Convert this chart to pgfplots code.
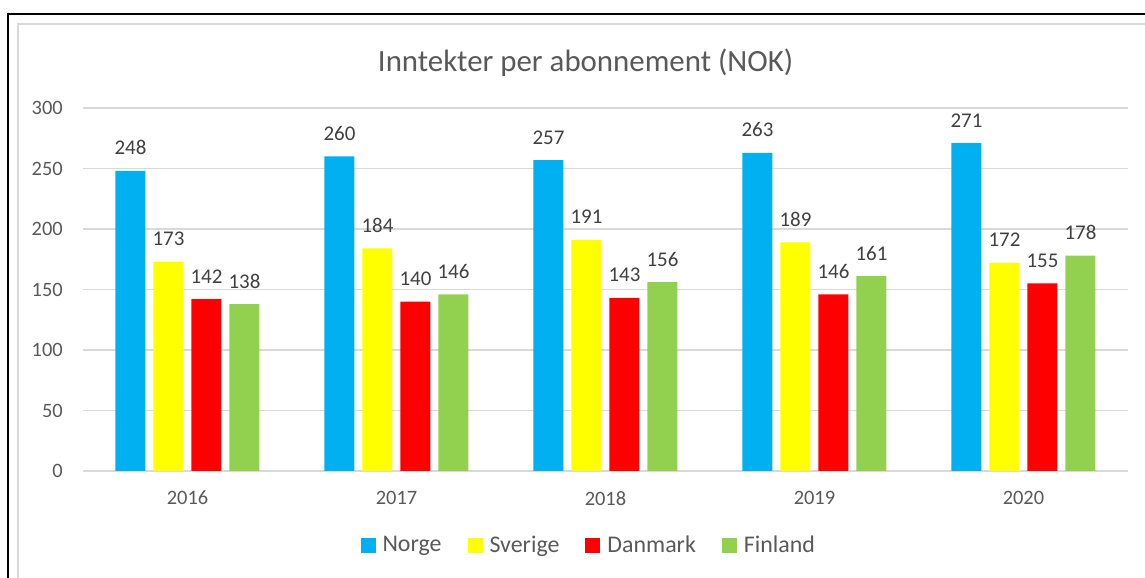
\documentclass[border=0pt]{standalone}
\usepackage{pgfplots}
\pgfplotsset{compat=1.18}
\usepackage{fontspec}
\setmainfont{Carlito}
\definecolor{cNorge}{HTML}{00B0F0}
\definecolor{cSverige}{HTML}{FFFF00}
\definecolor{cDanmark}{HTML}{FF0000}
\definecolor{cFinland}{HTML}{92D050}
\definecolor{txt}{HTML}{595959}
\definecolor{lab}{HTML}{404040}
\definecolor{grid}{HTML}{D9D9D9}
\begin{document}
\begin{tikzpicture}
\useasboundingbox (0,0) rectangle (1145bp,578bp);
\draw[black, line width=1.5bp] (8bp,0) -- (8bp,564bp) -- (1145bp,564bp);
\draw[grid, line width=2bp] (18bp,0) -- (18bp,554bp) -- (1145bp,554bp);
\begin{axis}[
  at={(83bp,107bp)}, anchor=south west,
  scale only axis, width=1045bp, height=363bp,
  ybar=8bp, bar width=30bp,
  xmin=-0.5, xmax=4.5, ymin=0, ymax=300,
  xtick=data, xticklabels={2016,2017,2018,2019,2020},
  ytick={0,50,100,150,200,250,300},
  axis lines=left,
  y axis line style={draw=none},
  x axis line style={draw=grid, line width=1.5bp, -},
  ymajorgrids, grid style={draw=grid, line width=1.5bp},
  major tick length=0,
  /pgf/number format/assume math mode=true,
  tick label style={font=\fontsize{20.5}{24}\selectfont, text=txt},
  y tick label style={inner sep=0pt, xshift=-20bp},
  x tick label style={inner sep=0pt, anchor=north, yshift=-20bp},
  nodes near coords,
  every node near coord/.append style={font=\fontsize{21}{24}\selectfont, text=lab, anchor=base, yshift=16bp},
  title={Inntekter per abonnement (NOK)},
  title style={at={(0.481,1.107)}, anchor=center, font=\fontsize{31}{36}\selectfont, text=txt},
  legend columns=4,
  legend style={draw=none, fill=none, at={(0.484,-0.204)}, anchor=center,
    font=\fontsize{24}{28}\selectfont, text=txt,
    /tikz/every odd column/.append style={column sep=5bp},
    /tikz/every even column/.append style={column sep=24bp}},
  legend image code/.code={\fill[#1] (0bp,-7.5bp) rectangle (15bp,7.5bp);},
]
\addplot[fill=cNorge, draw=none] coordinates {(0,248) (1,260) (2,257) (3,263) (4,271)};
\addplot[fill=cSverige, draw=none] coordinates {(0,173) (1,184) (2,191) (3,189) (4,172)};
\addplot[fill=cDanmark, draw=none] coordinates {(0,142) (1,140) (2,143) (3,146) (4,155)};
\addplot[fill=cFinland, draw=none] coordinates {(0,138) (1,146) (2,156) (3,161) (4,178)};
\legend{Norge,Sverige,Danmark,Finland}
\end{axis}
\end{tikzpicture}
\end{document}
